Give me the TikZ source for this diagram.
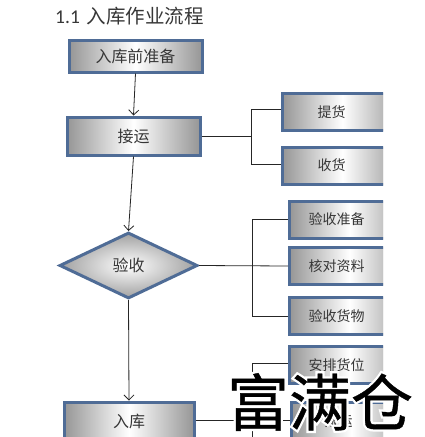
\documentclass[tikz,border=0pt]{standalone}
\usepackage{fontspec}
\setmainfont{Noto Sans CJK SC}
\newfontfamily\cjk{Noto Sans CJK SC}
\newfontfamily\wmfont[BoldFont=*, FakeBold=0.6]{Noto Sans CJK SC}
\newfontfamily\wmhalo[FakeBold=8]{Noto Sans CJK SC}
\newfontfamily\latinsans{Carlito}
\usetikzlibrary{shapes.geometric,arrows.meta,shadows}
\definecolor{boxblue}{RGB}{79,108,150}
\definecolor{txtgray}{RGB}{55,55,55}
\definecolor{edgegray}{RGB}{150,150,150}
\tikzset{
  boxbase/.style={draw=boxblue, line width=3pt, left color=edgegray, right color=edgegray, middle color=white,
    text=txtgray, inner sep=0pt, drop shadow={shadow xshift=1.5pt, shadow yshift=-1.8pt, opacity=0.3}},
  mainbox/.style={boxbase, rectangle, minimum width=133pt, font=\cjk\fontsize{16}{16}\selectfont},
  subbox/.style={boxbase, rectangle, minimum width=120pt, minimum height=37pt, font=\cjk\fontsize{14}{14}\selectfont},
  decbox/.style={draw=boxblue, line width=3pt, shape=diamond, inner color=white, outer color=edgegray!90,
    text=txtgray, inner sep=0pt, minimum width=138pt, minimum height=66pt, aspect=2.09,
    font=\cjk\fontsize{16}{16}\selectfont},
  link/.style={draw=black!85, line width=0.8pt},
  flow/.style={link, -{Straight Barb[length=5pt,width=10pt]}},
  wmtext/.style={font=\wmfont\fontsize{62}{62}\selectfont, inner sep=0pt},
  wmhalotext/.style={font=\wmhalo\fontsize{62}{62}\selectfont, inner sep=0pt}
}
\begin{document}
\begin{tikzpicture}[x=1pt,y=-1pt]
\useasboundingbox (0,0) rectangle (425,437);
\fill[white] (0,0) rectangle (425,437);
\begin{scope}
\clip (0,0) rectangle (383,437);
% title
\node[anchor=base west, inner sep=0pt, text=txtgray] (title) at (55,23)
  {{\latinsans\fontsize{19.5}{20}\selectfont 1.1}\hspace{7pt}{\cjk\fontsize{19.5}{20}\selectfont 入库作业流程}};
% main column
\node[mainbox, minimum height=32pt] (prep) at (135.5,56) {入库前准备};
\node[mainbox, minimum height=38pt] (recv) at (133.5,136) {接运};
\node[decbox] (check) at (128.5,265.5) {验收};
\node[mainbox, minimum width=130pt, minimum height=38pt] (store) at (129,421) {入库};
% sub boxes
\node[subbox, anchor=west] (pick) at (281,112) {\hspace{-22pt}提货};
\node[subbox, anchor=west] (take) at (281,165.5) {\hspace{-22pt}收货};
\node[subbox, anchor=west] (vprep) at (288,219.5) {\hspace{-26pt}验收准备};
\node[subbox, anchor=west] (vdoc) at (288,266) {\hspace{-26pt}核对资料};
\node[subbox, anchor=west] (vgood) at (288,316) {\hspace{-26pt}验收货物};
\node[subbox, anchor=west] (place) at (288,365) {\hspace{-26pt}安排货位};
\node[subbox, anchor=west] (move) at (290,421) {\hspace{-26pt}搬运};
% bus coordinates
\coordinate (busA) at (251,136);
\coordinate (busB) at (252,266);
\coordinate (busC) at (252,420);
\coordinate (busCend) at (252,445);
% flow arrows
\draw[flow] (prep.south) -- (recv.north);
\draw[flow] (recv.south) -- (check.north);
\draw[flow] (check.south) -- (store.north);
% group 1
\draw[link] (recv.east) -- (busA);
\draw[link] (busA |- 0,109) -- (busA |- 0,164);
\draw[link] (busA |- 0,109) -- (pick.west |- 0,109);
\draw[link] (busA |- 0,164) -- (take.west |- 0,164);
% group 2
\draw[link] (check.east) -- (vdoc.west);
\draw[link] (busB |- vprep.west) -- (busB |- vgood.west);
\draw[link] (busB |- vprep.west) -- (vprep.west);
\draw[link] (busB |- vgood.west) -- (vgood.west);
% group 3
\draw[link] (store.east |- busC) -- (move.west |- busC);
\draw[link] (busC |- 0,363) -- (busCend);
\draw[link] (busC |- 0,363) -- (place.west |- 0,363);
\end{scope}
% watermark with white halo
\node[wmhalotext, text=white] (markhalo) at (320,402) {富满仓};
\node[wmtext, text=black] (mark) at (320,402) {富满仓};
\end{tikzpicture}
\end{document}
